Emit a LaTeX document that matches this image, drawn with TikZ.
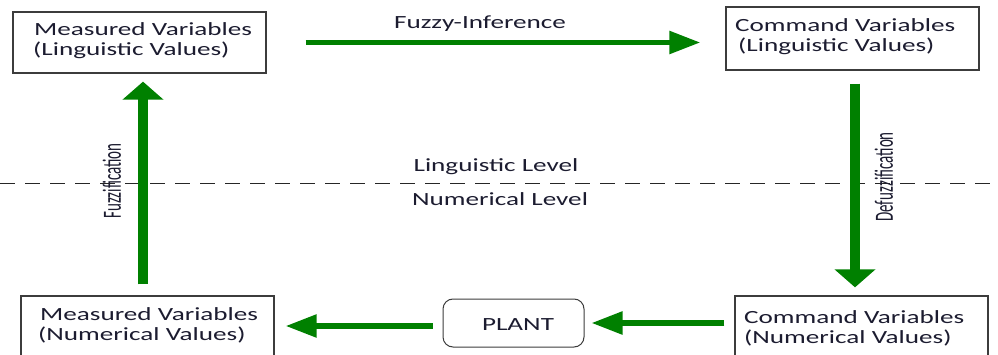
\documentclass[tikz,border=0pt]{standalone}
\usepackage{fontspec}
\newfontfamily\lblfont{Carlito}[FakeStretch=1.46]
\newfontfamily\rotfont{Carlito}
\usetikzlibrary{arrows.meta}
\definecolor{arrgreen}{RGB}{0,128,0}
\definecolor{txtcol}{RGB}{28,28,48}
\definecolor{boxcol}{RGB}{60,60,60}
\begin{document}
\begin{tikzpicture}[x=1pt,y=-1pt,
  boxnode/.style={draw=boxcol, line width=1.3pt, inner sep=0pt, minimum width=253pt},
  plantnode/.style={draw=boxcol, line width=1pt, rounded corners=10pt, inner sep=0pt, minimum width=141pt, minimum height=48pt},
  lbl/.style={font=\lblfont\fontsize{18.6}{20}\selectfont, text=txtcol, inner sep=0pt, align=left},
  rotlbl/.style={text=txtcol, inner sep=0pt, rotate=90},
  harr/.style={draw=arrgreen, line width=5.5pt, -{Triangle[length=31pt,width=22pt]}, arrgreen},
  varr/.style={draw=arrgreen, line width=9.5pt, -{Triangle[length=18pt,width=40pt]}, arrgreen},
  levelline/.style={draw=black!85, line width=1pt, dash pattern=on 15pt off 10pt}
]
\clip (0,0) rectangle (998,355);
\fill[white] (0,0) rectangle (998,355);

% boxes
\node[boxnode, minimum height=61pt] (m1) at (139.5,42.5) {};
\node[boxnode, minimum height=63pt] (c1) at (852.5,38.5) {};
\node[boxnode, minimum height=74pt] (m2) at (147.5,333) {};
\node[boxnode, minimum height=74pt] (c2) at (861.5,333) {};
\node[plantnode] (p) at (513.5,323) {};

% box texts (base anchor = baseline of the last line)
\node[lbl, anchor=base west] (t1) at (33,56) {\hspace*{1pt}Measured Variables\\(Linguistic Values)};
\node[lbl, anchor=base west] (t2) at (735,52) {Command Variables\\\hspace*{3pt}(Linguistic Values)};
\node[lbl, anchor=base west] (t3) at (38,340) {\hspace*{2pt}Measured Variables\\(Numerical Values)};
\node[lbl, anchor=base west] (t4) at (744,343) {Command Variables\\(Numerical Values)};
\node[lbl, anchor=base] (tp) at (518,330) {PLANT};

% level labels and line
\node[lbl, anchor=base] (fi) at (480,29) {Fuzzy-Inference};
\node[lbl, anchor=base] (ll) at (496,172) {Linguistic Level};
\node[lbl, anchor=base] (nl) at (500,206) {Numerical Level};
\coordinate (dl) at (0,184);
\coordinate (dr) at (998,184);
\draw[levelline] (dl) -- (dr);

% rotated labels
\node[rotlbl] (fz) at (112,181) {\scalebox{1}[1.75]{\rotfont\fontsize{15}{18}\selectfont Fuzzification}};
\node[rotlbl] (dfz) at (884,177) {\scalebox{1}[1.75]{\rotfont\fontsize{15}{18}\selectfont Defuzzification}};

% connectors
\coordinate (lx) at (143,0);
\coordinate (rx) at (855,0);
\coordinate (by) at (0,326);
\draw[harr, shorten <=39pt, shorten >=25pt] (m1.east) -- (m1.east -| c1.west);
\draw[varr, shorten <=11pt, shorten >=8pt] (m2.north -| lx) -- (m1.south -| lx);
\draw[varr, shorten <=13pt, shorten >=8pt] (c1.south -| rx) -- (c2.north -| rx);
\draw[harr, shorten <=10pt, shorten >=7pt] (c2.west |- p.east) -- (p.east);
\draw[harr, shorten <=10pt, shorten >=11pt] (p.west |- by) -- (m2.east |- by);
\end{tikzpicture}
\end{document}
